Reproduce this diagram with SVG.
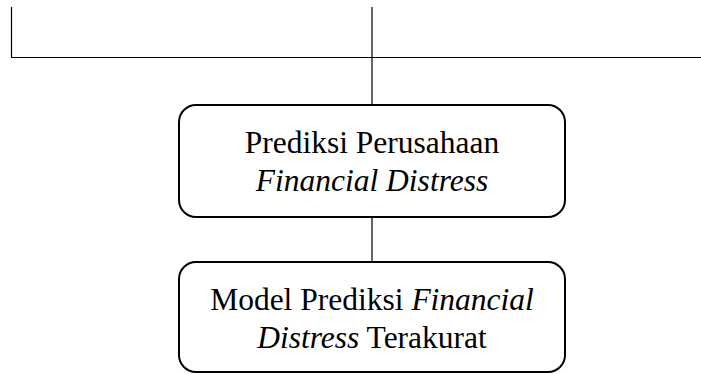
<svg xmlns="http://www.w3.org/2000/svg" width="701" height="374" viewBox="0 0 701 374">
<style>
.bg{fill:#fff}
.box{fill:#fff;stroke:#000;stroke-width:2}
.ln{stroke:#000;stroke-width:1.2;fill:none}
.t{font-family:"Liberation Serif","Times New Roman",serif;font-size:31.5px;fill:#000;text-anchor:middle}
.i{font-style:italic}
</style>
<rect class="bg" x="0" y="0" width="701" height="374"/>
<g id="connectors">
<path class="ln" d="M11.5,7 V57.5 H701"/>
<path class="ln" d="M372,7 V105"/>
<path class="ln" d="M372,217 V262"/>
</g>
<g id="node1">
<rect class="box" x="179" y="105" width="386" height="112" rx="17"/>
<text class="t" x="372" y="153">Prediksi Perusahaan</text>
<text class="t i" x="372" y="191">Financial Distress</text>
</g>
<g id="node2">
<rect class="box" x="179" y="262" width="386" height="110" rx="17"/>
<text class="t" x="372" y="310">Model Prediksi <tspan class="i">Financial</tspan></text>
<text class="t" x="372" y="348"><tspan class="i">Distress</tspan> Terakurat</text>
</g>
</svg>
